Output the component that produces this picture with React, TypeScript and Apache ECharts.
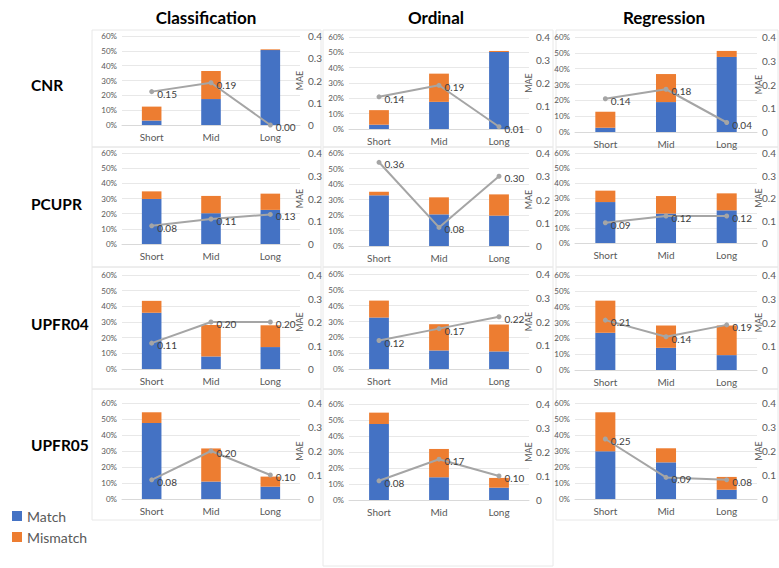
import React, { useEffect, useRef } from "react";
import * as echarts from "echarts";

const categories = ["Short", "Mid", "Long"];
const methods = ["Classification", "Ordinal", "Regression"];
const datasets = ["CNR", "PCUPR", "UPFR04", "UPFR05"];

// each array: [Classification, Ordinal, Regression], values for Short / Mid / Long
const cnrMatch = [[3.0, 17.5, 50.5], [2.8, 17.7, 50.2], [2.7, 18.9, 47.4]];
const cnrMismatch = [[9.4, 18.9, 0.5], [9.5, 18.4, 0.7], [10.1, 17.7, 3.8]];
const cnrMAE = [[0.15, 0.19, 0.0], [0.14, 0.19, 0.01], [0.14, 0.18, 0.04]];

const pcuprMatch = [[29.7, 20.3, 22.5], [32.7, 20.4, 19.6], [27.3, 19.6, 21.8]];
const pcuprMismatch = [[5.0, 11.4, 10.7], [2.3, 11.0, 13.7], [7.6, 11.7, 11.3]];
const pcuprMAE = [[0.08, 0.11, 0.13], [0.36, 0.08, 0.3], [0.09, 0.12, 0.12]];

const upfr04Match = [[35.9, 8.0, 14.0], [32.5, 11.7, 11.1], [23.5, 14.0, 9.4]];
const upfr04Mismatch = [[7.6, 20.1, 13.9], [10.7, 16.6, 17.0], [20.3, 14.1, 18.7]];
const upfr04MAE = [[0.11, 0.2, 0.2], [0.12, 0.17, 0.22], [0.21, 0.14, 0.19]];

const upfr05Match = [[47.5, 10.9, 7.7], [47.5, 14.2, 7.7], [29.8, 22.9, 5.8]];
const upfr05Mismatch = [[6.7, 20.7, 6.3], [7.1, 17.7, 6.1], [24.4, 8.8, 8.0]];
const upfr05MAE = [[0.08, 0.2, 0.1], [0.08, 0.17, 0.1], [0.25, 0.09, 0.08]];

const matchRows = [cnrMatch, pcuprMatch, upfr04Match, upfr05Match];
const mismatchRows = [cnrMismatch, pcuprMismatch, upfr04Mismatch, upfr05Mismatch];
const maeRows = [cnrMAE, pcuprMAE, upfr04MAE, upfr05MAE];

// layout (pixels)
const colX = [[122, 300], [349, 529], [575, 759]];
const rowY = [
  [[36, 125], [37, 129], [37, 132]],
  [[153, 244], [153, 246], [153, 243]],
  [[275, 369], [274, 369], [275, 370]],
  [[403, 499], [404, 500], [403, 499]],
];
const rightMargin = [8, 7, 5];
const panelX = [[92, 321], [323, 553], [556, 778]];
const panelY = [[30, 147], [147, 267], [267, 389], [389, 520]];
const titleX = [206, 436, 664];
const rowLabelY = [86, 205, 325, 446];

const FONT = "Lato";
const BLUE = "#4472c4";
const ORANGE = "#ed7d31";
const GRAY = "#a5a5a5";
const TXT = "#595959";

export default function App() {
  const ref = useRef<HTMLDivElement>(null);
  useEffect(() => {
    if (!ref.current) return;
    const chart = echarts.init(ref.current, null, { renderer: "svg" });
    const grids: any[] = [];
    const xAxes: any[] = [];
    const yAxes: any[] = [];
    const series: any[] = [];
    const graphics: any[] = [];

    datasets.forEach((ds, r) => {
      methods.forEach((m, c) => {
        const i = r * 3 + c;
        const [x0, x1] = colX[c];
        const [y0, y1] = rowY[r][c];
        const [px0, px1] = panelX[c];
        let [py0, py1] = panelY[r];
        if (r === 3 && c === 1) py1 = 566;
        graphics.push({
          type: "rect",
          z: -10,
          shape: { x: px0, y: py0, width: px1 - px0, height: py1 - py0 },
          style: { fill: "none", stroke: "#e8e8e8", lineWidth: 1 },
          silent: true,
        });
        grids.push({ left: x0, top: y0, width: x1 - x0, height: y1 - y0 });
        xAxes.push({
          type: "category",
          gridIndex: i,
          data: categories,
          axisLine: { lineStyle: { color: "#d9d9d9" } },
          axisTick: { show: false },
          axisLabel: { fontSize: 10, color: TXT, margin: 7, fontFamily: FONT },
        });
        yAxes.push({
          type: "value",
          gridIndex: i,
          position: "left",
          min: 0,
          max: 60,
          interval: 10,
          axisLine: { show: false },
          axisTick: { show: false },
          axisLabel: { formatter: "{value}%", fontSize: 8, color: TXT, margin: 5, fontFamily: FONT },
          splitLine: { lineStyle: { color: "#e8e8e8" } },
        });
        yAxes.push({
          type: "value",
          gridIndex: i,
          position: "right",
          min: 0,
          max: 0.4,
          interval: 0.1,
          axisLine: { show: false },
          axisTick: { show: false },
          splitLine: { show: false },
          axisLabel: {
            formatter: (v: number) => (v === 0 ? "0" : v.toFixed(1)),
            fontSize: 10,
            color: TXT,
            margin: rightMargin[c],
            fontFamily: FONT,
          },
        });
        graphics.push({
          type: "text",
          x: x1 - 1,
          y: (y0 + y1) / 2,
          rotation: Math.PI / 2,
          style: {
            text: "MAE",
            fontSize: 9,
            fill: TXT,
            fontFamily: FONT,
            textAlign: "center",
            textVerticalAlign: "middle",
          },
          z: 10,
        });
        series.push({
          name: "Match",
          type: "bar",
          xAxisIndex: i,
          yAxisIndex: 2 * i,
          stack: "s" + i,
          barWidth: "33%",
          itemStyle: { color: BLUE },
          data: matchRows[r][c],
        });
        series.push({
          name: "Mismatch",
          type: "bar",
          xAxisIndex: i,
          yAxisIndex: 2 * i,
          stack: "s" + i,
          barWidth: "33%",
          itemStyle: { color: ORANGE },
          data: mismatchRows[r][c],
        });
        series.push({
          name: "MAE",
          type: "line",
          xAxisIndex: i,
          yAxisIndex: 2 * i + 1,
          data: maeRows[r][c],
          symbol: "circle",
          symbolSize: 5,
          itemStyle: { color: GRAY },
          lineStyle: { color: GRAY, width: 2 },
          label: {
            show: true,
            position: "right",
            distance: 3,
            offset: [0, 2],
            formatter: (p: any) => Number(p.value).toFixed(2),
            fontSize: 10,
            color: "#404040",
            fontFamily: FONT,
          },
          z: 5,
        });
      });
      graphics.push({
        type: "text",
        left: 31,
        top: rowLabelY[r] - 9,
        style: { text: ds, fontSize: 15.5, fontWeight: "bold", fill: "#000", fontFamily: FONT },
      });
    });

    methods.forEach((m, c) => {
      graphics.push({
        type: "text",
        x: titleX[c],
        y: 17,
        style: {
          text: m,
          fontSize: 17,
          fontWeight: "bold",
          fill: "#000",
          fontFamily: FONT,
          textAlign: "center",
          textVerticalAlign: "middle",
        },
      });
    });

    chart.setOption({
      animation: false,
      backgroundColor: "#fff",
      textStyle: { fontFamily: FONT },
      grid: grids,
      xAxis: xAxes,
      yAxis: yAxes,
      series,
      graphic: graphics,
      legend: {
        data: ["Match", "Mismatch"],
        orient: "vertical",
        left: 7,
        top: 504,
        itemWidth: 10,
        itemHeight: 10,
        itemGap: 7,
        icon: "rect",
        textStyle: { fontSize: 14, color: TXT, fontFamily: FONT },
      },
    });
    return () => chart.dispose();
  }, []);
  return (
    <div
      ref={ref}
      style={{ position: "absolute", left: 0, top: 0, width: 779, height: 568 }}
    />
  );
}
